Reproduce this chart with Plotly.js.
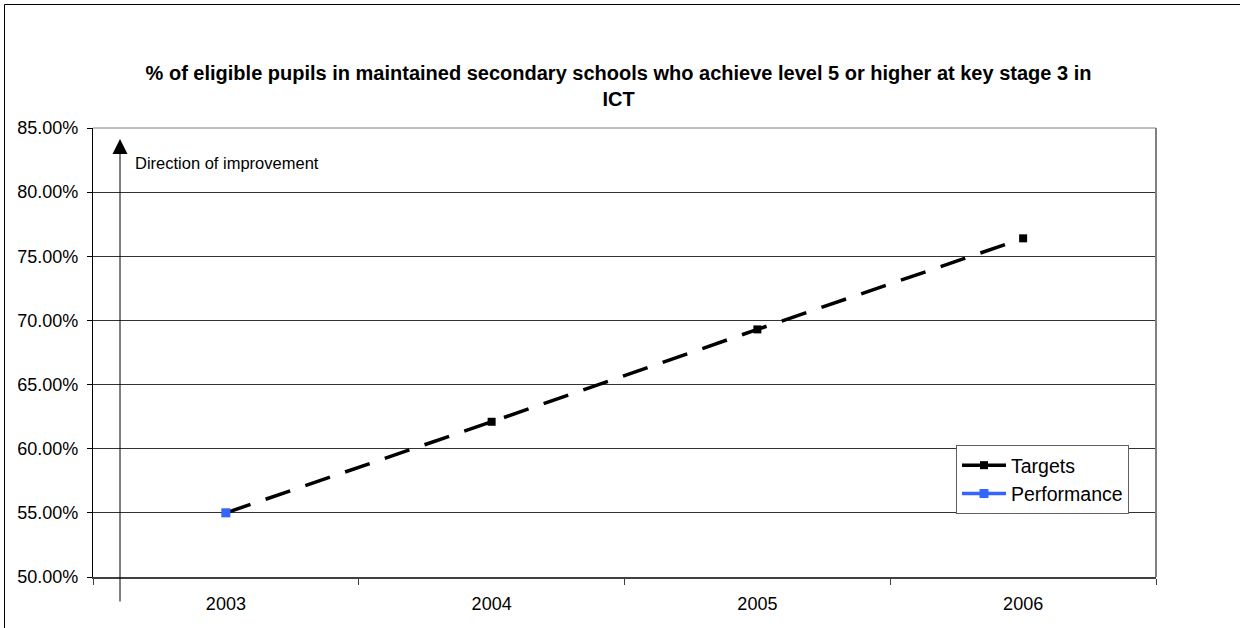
<!DOCTYPE html>
<html>
<head>
<meta charset="utf-8">
<script src="https://cdn.plot.ly/plotly-3.0.1.min.js"></script>
<style>
  html, body { margin: 0; padding: 0; background: #ffffff; }
  #chart { width: 1240px; height: 628px; }
</style>
</head>
<body>
<div id="chart"></div>
<script>
// ---- data ----
const years = ['2003', '2004', '2005', '2006'];
const targets = [55.0, 62.1, 69.3, 76.4];
const performance = [55.0, null, null, null];
const chartTitle = '% of eligible pupils in maintained secondary schools who achieve level 5 or higher at key stage 3 in<br>ICT';
const arrowLabel = 'Direction of improvement';

// ---- geometry helpers (plot area in pixels) ----
const W = 1240, H = 628;
const L = 93, R = 1156, T = 128, B = 577;
const px2x = p => (p - L) / (R - L);
const px2y = p => (B - p) / (B - T);

const FONT = 'Liberation Sans, Arial, sans-serif';

const traces = [
  // Targets: dashed series line (legend shows a solid key below)
  {
    type: 'scatter', mode: 'lines+markers', name: 'Targets',
    x: years, y: targets,
    line: { color: '#000000', width: 3.5, dash: '26px,16px' },
    marker: { symbol: 'square', size: 8, color: '#000000' },
    showlegend: false, legendgroup: 'a', hoverinfo: 'x+y'
  },
  // legend key for Targets (no data drawn)
  {
    type: 'scatter', mode: 'lines+markers', name: 'Targets',
    x: [null], y: [null],
    line: { color: '#000000', width: 3.5 },
    marker: { symbol: 'square', size: 8, color: '#000000' },
    legendgroup: 'a', hoverinfo: 'skip'
  },
  {
    type: 'scatter', mode: 'lines+markers', name: 'Performance',
    x: years, y: performance,
    line: { color: '#3366ff', width: 3.5 },
    marker: { symbol: 'square', size: 9, color: '#3366ff' },
    legendgroup: 'b', hoverinfo: 'x+y'
  }
];

const layout = {
  width: W, height: H,
  margin: { l: L, r: W - R, t: T, b: H - B, pad: 0 },
  paper_bgcolor: '#ffffff', plot_bgcolor: '#ffffff',
  font: { family: FONT, color: '#000000' },
  title: {
    text: '<b>' + chartTitle + '</b>',
    font: { family: FONT, size: 20, color: '#000000' },
    x: 618.5 / W, xanchor: 'center',
    y: 1 - 80 / H, yanchor: 'middle', yref: 'container', xref: 'container'
  },
  xaxis: {
    type: 'category', range: [-0.5, 3.5], tickson: 'boundaries',
    ticks: 'outside', ticklen: 6, tickcolor: '#404040', tickwidth: 1,
    showline: true, linecolor: '#404040', linewidth: 2,
    showgrid: false, zeroline: false,
    ticklabelstandoff: 9,
    tickfont: { family: FONT, size: 18, color: '#000000' },
    fixedrange: true
  },
  yaxis: {
    range: [50, 85], tick0: 50, dtick: 5,
    ticks: 'outside', ticklen: 5, tickcolor: '#000000', tickwidth: 1,
    showline: true, linecolor: '#000000', linewidth: 1,
    showgrid: true, gridcolor: '#333333', gridwidth: 1, zeroline: false,
    tickformat: '.2f', ticksuffix: '%',
    ticklabelstandoff: 5,
    tickfont: { family: FONT, size: 18, color: '#000000' },
    fixedrange: true
  },
  showlegend: true,
  legend: {
    x: px2x(956), y: px2y(445), xanchor: 'left', yanchor: 'top',
    bgcolor: '#ffffff', bordercolor: '#606060', borderwidth: 1,
    font: { family: FONT, size: 19.5, color: '#000000' },
    itemwidth: 44,
    traceorder: 'grouped', tracegroupgap: 0
  },
  shapes: [
    // outer chart border (extends past the visible frame on right/bottom)
    { type: 'rect', xref: 'paper', yref: 'paper', layer: 'above',
      x0: px2x(4.5), x1: px2x(1300), y0: px2y(700), y1: px2y(4.5),
      line: { color: '#000000', width: 1 }, fillcolor: 'rgba(0,0,0,0)' },
    // plot-area border (top and right)
    { type: 'line', xref: 'paper', yref: 'paper', layer: 'above',
      x0: 0, x1: 1, y0: 1, y1: 1, line: { color: '#808080', width: 1 } },
    { type: 'line', xref: 'paper', yref: 'paper', layer: 'above',
      x0: 1, x1: 1, y0: 0, y1: 1, line: { color: '#808080', width: 2 } }
  ],
  annotations: [
    { xref: 'paper', yref: 'paper', x: px2x(120), y: px2y(139),
      text: '', showarrow: true, ax: 0, ay: 603 - 139,
      arrowhead: 2, arrowsize: 3, arrowwidth: 1, arrowcolor: '#000000', standoff: 0 },
    { xref: 'paper', yref: 'paper', x: px2x(133), y: px2y(163),
      xanchor: 'left', yanchor: 'middle', showarrow: false,
      text: arrowLabel, font: { family: FONT, size: 16.5, color: '#000000' } }
  ]
};

Plotly.newPlot('chart', traces, layout, { displayModeBar: false, staticPlot: false });
</script>
</body>
</html>
